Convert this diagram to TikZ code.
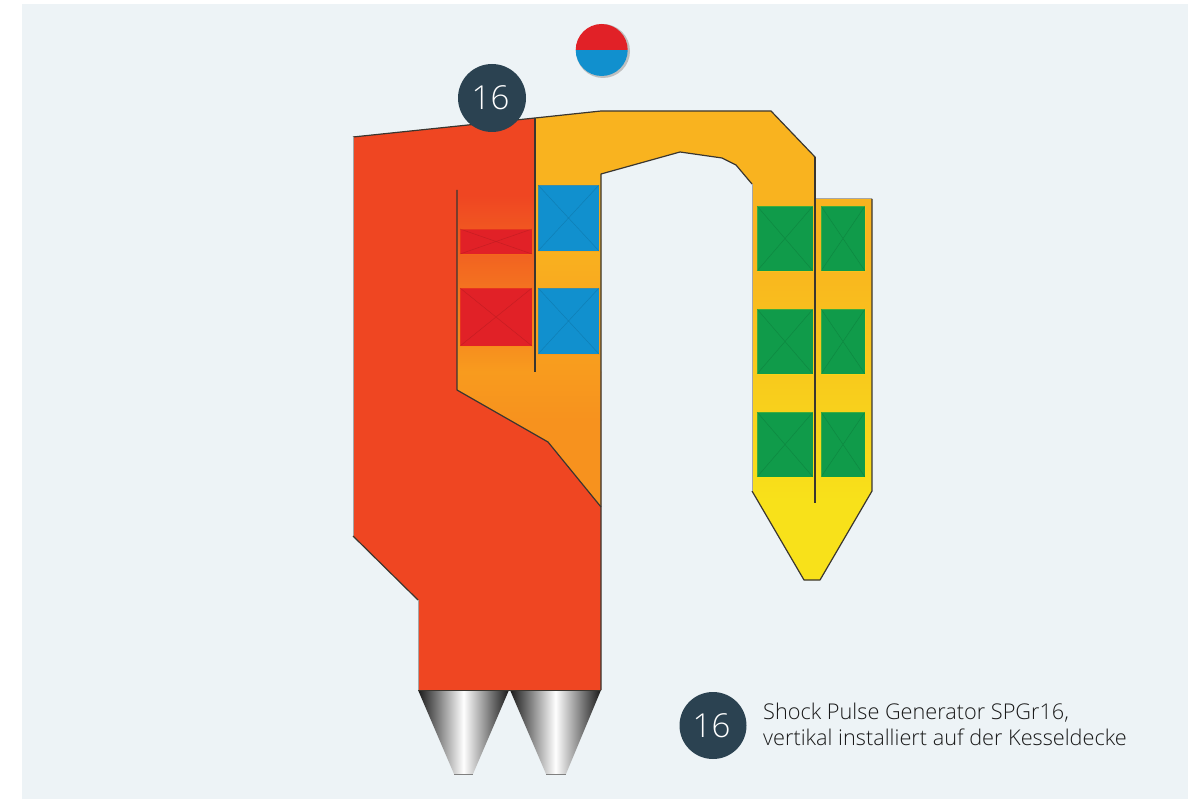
\documentclass[tikz,border=0pt]{standalone}
\usepackage{fontspec}
\setmainfont{Open Sans Light}
\definecolor{panel}{HTML}{EDF3F6}
\definecolor{badge}{HTML}{2B4251}
\definecolor{fire}{HTML}{EF4622}
\definecolor{redb}{HTML}{E12127}
\definecolor{blueb}{HTML}{1190CE}
\definecolor{greenb}{HTML}{109B4A}
\definecolor{edge}{HTML}{3A3630}
\definecolor{gA}{RGB}{249,179,31}
\definecolor{gB}{RGB}{248,225,26}
\definecolor{gC}{RGB}{248,155,30}
\definecolor{gD}{RGB}{247,146,30}
\tikzset{
  x=1pt,y=-1pt,
  badgenode/.style={circle,fill=badge,text=white,inner sep=0pt,minimum size=68pt,font=\fontsize{33}{33}\selectfont},
  outline/.style={draw=edge,line width=1.2pt,line join=round},
  softedge/.style={draw=gray!70,line width=1pt,line join=round},
  hopper/.style={left color=black!90,right color=black!90,middle color=white},
}
\newcommand{\tube}[6]{%
  \fill[#5] (#1,#2) rectangle (#3,#4);
  \draw[#5!70!black,line width=.5pt,opacity=.4] (#1,#2) -- (#3,#4) (#1,#4) -- (#3,#2);
  \draw[#6,line width=.5pt,opacity=.2] (#1,#2) rectangle (#3,#4);
}
\begin{document}
\begin{tikzpicture}
\useasboundingbox (0,0) rectangle (1201,799);
\fill[white] (0,0) rectangle (1201,799);
\fill[panel] (22,4) rectangle (1188,799);
% furnace
\fill[fire] (353,137) -- (535,118) -- (535,372) -- (601,372) -- (601,690) -- (418,690) -- (418,600) -- (353,536) -- cycle;
% convective pass
\begin{scope}
\clip (457,190) -- (535,190) -- (535,118) -- (601,111) -- (771,111) -- (815,157) -- (815,199) -- (872,199) -- (872,491) -- (820,580) -- (804,580) -- (752,491) -- (752,184) -- (736,165) -- (722,158) -- (680,152) -- (601,174) -- (601,507) -- (548,442) -- (457,390) -- cycle;
\fill[gA] (535,105) rectangle (880,300);
\shade[top color=gA,bottom color=gB] (740,250) rectangle (880,500);
\fill[gB] (740,499) rectangle (880,585);
\fill[gD] (450,419) rectangle (610,510);
\shade[top color=gC,bottom color=gD] (450,371.5) rectangle (610,420);
\shade[top color=gA,bottom color=gC] (535,240) rectangle (610,372);
\shade[top color=fire,bottom color=gC] (457,195) rectangle (535.5,372);
\fill[fire] (457,185) rectangle (535.5,195.5);
\end{scope}
% outlines
\draw[outline] (353,137) -- (535,118) -- (601,111) -- (771,111) -- (815,157) -- (815,199);
\draw[softedge] (815,199) -- (872,199);
\draw[outline] (872,199) -- (872,491) -- (820,580) -- (804,580) -- (752,491);
\draw[softedge] (752,491) -- (752,184);
\draw[outline] (752,184) -- (736,165) -- (722,158) -- (680,152) -- (601,174) -- (601,690);
\draw[outline] (457,190) -- (457,390) -- (548,442) -- (601,507);
\draw[outline] (535,118) -- (535,372);
\draw[outline] (815,157) -- (815,503);
\draw[softedge] (353,137) -- (353,536);
\draw[outline] (353,536) -- (418,600);
\draw[softedge] (418,600) -- (418,690);
% hoppers
\shade[hopper] (418,690) -- (509,690) -- (473,774) -- (454,774) -- cycle;
\shade[hopper] (510,690) -- (601,690) -- (566,774) -- (546,774) -- cycle;
\draw[gray,line width=.8pt] (454,774) -- (473,774) (546,774) -- (566,774);
\draw[edge,line width=.8pt] (418,690) -- (601,690);
% bundles
\tube{460}{229}{532}{254}{redb}{orange}
\tube{460}{288}{532}{346}{redb}{orange}
\tube{538}{185}{599}{251}{blueb}{orange}
\tube{538}{288}{599}{354}{blueb}{orange}
\tube{757}{206}{813}{271}{greenb}{yellow}
\tube{821}{206}{865}{271}{greenb}{yellow}
\tube{757}{309}{813}{374}{greenb}{yellow}
\tube{821}{309}{865}{374}{greenb}{yellow}
\tube{757}{412}{813}{477}{greenb}{yellow}
\tube{821}{412}{865}{477}{greenb}{yellow}
% badges
\node[badgenode] (b1) at (492,98) {16\kern3pt};
\node[badgenode,minimum size=67pt] (b2) at (713,725.5) {16\kern3pt};
% legend
\node[anchor=west,align=left,inner sep=0pt,font=\fontsize{21.7}{26}\selectfont,text=black!90] (t) at (763,724) {Shock Pulse Generator SPGr16,\\vertikal installiert auf der Kesseldecke};
% mixing symbol
\fill[gray!50] (603,51) circle (27);
\begin{scope}
\clip (601.7,50) circle (26);
\fill[redb] (570,20) rectangle (635,50);
\fill[blueb] (570,50) rectangle (635,80);
\end{scope}
\end{tikzpicture}
\end{document}
